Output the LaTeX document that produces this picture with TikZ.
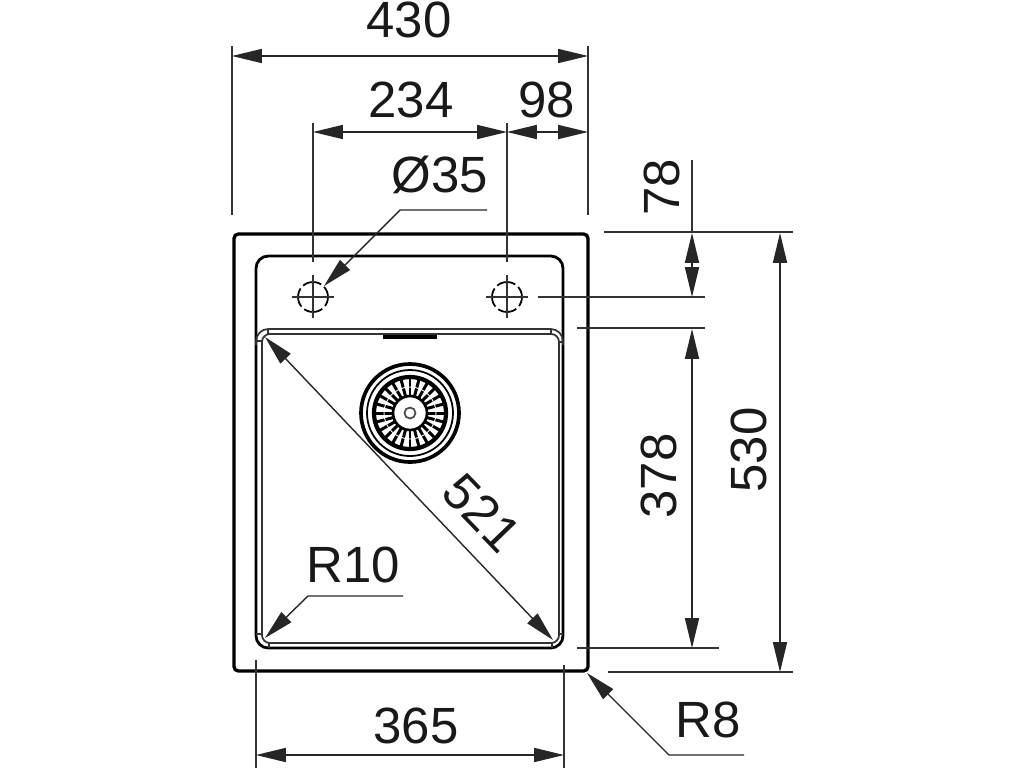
\documentclass[tikz,border=0pt]{standalone}
\usepackage{fontspec}
\setmainfont{Liberation Sans}
\usetikzlibrary{arrows.meta}
\tikzset{dim/.style = {line width = .8pt, draw = black!85, {Stealth[length=17pt,width=8pt,inset=0pt]}-{Stealth[length=17pt,width=8pt,inset=0pt]}}}
\tikzset{lead/.style = {line width = .8pt, draw = black!85, -{Stealth[length=17pt,width=8pt,inset=0pt]}}}
\tikzset{ext/.style = {line width = .8pt, draw = black!80}}
\tikzset{edge/.style = {line width = 1.9pt, rounded corners = 2.5pt}}
\tikzset{rim/.style = {line width = 1.6pt, rounded corners = 7pt}}
\tikzset{fine/.style = {line width = 1pt, draw = black!80}}
\tikzset{size/.style = {font = \fontsize{29}{29}\selectfont, text = black!90, inner sep = 0}}
\begin{document}
\begin{tikzpicture}[x = .02cm, y = -.02cm]
          \useasboundingbox (0, 0) rectangle (1024, 768);
          % sink outline
          \draw [edge] (234, 234) rectangle (588, 671);
          \draw [rim] (256, 256) rectangle (563, 648);
          \draw [fine, rounded corners = 7pt] (256, 345) -- (256, 329) -- (563, 329) -- (563, 345);
          \draw [fine, rounded corners = 4.5pt] (262, 334) rectangle (559, 643);
          \foreach \xa/\ya/\xb/\yb in {268/329/268/334, 256/341/262/341, 551/329/551/334, 559/342/563/342, 256/634/262/634, 269/643/269/648, 552/643/552/648, 559/634/563/634}
            \draw [fine] (\xa, \ya) -- (\xb, \yb);
          \fill (383, 334.5) rectangle (437, 338.5);
          % tap holes
          \foreach \cx in {313, 507} {
            \draw [line width = 1pt, dash pattern = on 11pt off 2.2pt, dash phase = 5.5pt] (\cx, 297) circle [radius = 15];
            \draw [ext] (\cx - 21, 297) -- (\cx + 21, 297);
            \draw [ext] (\cx, 275) -- (\cx, 318);
            \draw [ext] (\cx, 123) -- (\cx, 262);
          }
          % waste
          \draw [line width = 2.1pt] (410, 413) circle [radius = 49];
          \draw [line width = 1pt] (410, 413) circle [radius = 43];
          \draw [line width = 2.4pt] (410, 413) circle [radius = 36];
          \foreach \a in {0, 15, ..., 345}
            \draw [line width = 1.7pt] (410, 413) ++ (\a : 17) -- ++ (\a : 18);
          \draw [line width = .5pt, white] (410, 413) circle [radius = 26];
          \draw [line width = 1.5pt, fill = white] (410, 413) circle [radius = 17];
          \draw [line width = 1pt, draw = black!70] (410, 413) circle [radius = 5.5];
          % extension lines
          \draw [ext] (232, 46) -- (232, 215);
          \draw [ext] (588, 46) -- (588, 215);
          \draw [ext] (256, 660) -- (256, 768);
          \draw [ext] (564, 665) -- (564, 768);
          \draw [ext] (604, 232) -- (793, 232);
          \draw [ext] (538, 297) -- (705, 297);
          \draw [ext] (577, 328) -- (705, 328);
          \draw [ext] (577, 648) -- (719, 648);
          \draw [ext] (608, 672) -- (793, 672);
          \draw [ext] (692, 160) -- (692, 233);
          % dimensions
          \draw [dim] (232, 56) -- (588, 56);
          \draw [dim] (313, 132) -- (507, 132);
          \draw [dim] (507, 132) -- (588, 132);
          \draw [dim] (256, 755) -- (564, 755);
          \draw [dim] (692, 233) -- (692, 297);
          \draw [dim] (692, 329) -- (692, 648);
          \draw [dim] (780, 233) -- (780, 672);
          \draw [dim] (265, 337) -- (553, 640);
          \draw [lead] (487, 210) -- (400, 210) -- (324, 286);
          \draw [lead] (403, 596) -- (308, 596) -- (265, 638);
          \draw [lead] (744, 755) -- (669, 755) -- (587, 673);
          % labels
          \node [size] (w430) at (409, 20) {430};
          \node [size] (w234) at (411, 100) {234};
          \node [size] (w98) at (547, 100) {98};
          \node [size] (hole) at (440, 175) {Ø35};
          \node [size] (w365) at (416, 726) {365};
          \node [size] (h78) at (662, 187) [rotate = 90] {78};
          \node [size] (h378) at (659, 476) [rotate = 90] {378};
          \node [size] (h530) at (749, 450) [rotate = 90] {530};
          \node [size] (diag) at (482, 513) [rotate = -46] {521};
          \node [size] (r10) at (353, 565) {R10};
          \node [size] (r8) at (708, 720) {R8};
        \end{tikzpicture}
\end{document}
